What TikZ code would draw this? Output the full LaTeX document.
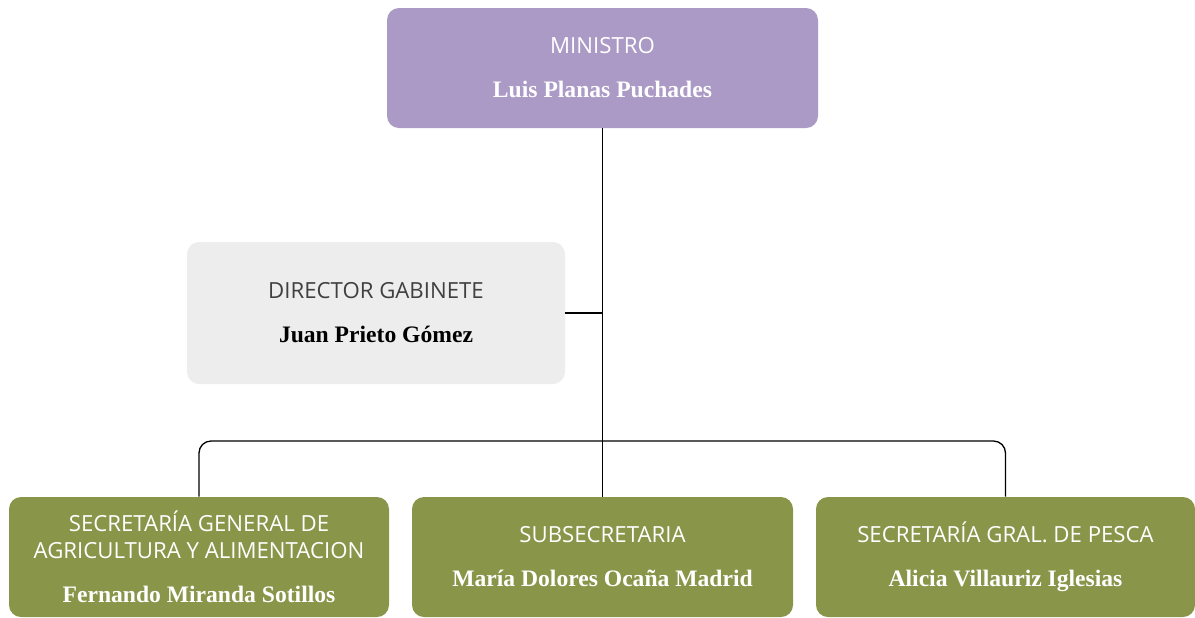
\documentclass[tikz,border=0pt]{standalone}
\usepackage{fontspec}
\setmainfont{Liberation Serif}
\newfontfamily\labfont{Open Sans}
\definecolor{lila}{HTML}{AB9AC5}
\definecolor{gris}{HTML}{EDEDED}
\definecolor{oliva}{HTML}{89964A}
\newcommand{\cargo}[1]{{\labfont\fontsize{11.1}{13.5}\selectfont #1}}
\newcommand{\titular}[1]{{\bfseries\fontsize{11.8}{13.5}\selectfont #1}}
\tikzset{
  caja/.style={rounded corners=6pt, align=center, inner sep=0pt,
    font=\fontsize{10.5}{13.5}\selectfont},
  enlace/.style={line width=0.65pt, black}
}
\begin{document}
\begin{tikzpicture}[x=0.5pt,y=-0.5pt]
	\useasboundingbox (0,0) rectangle (1195,617);
	\node[caja, fill=lila, text=white, minimum width=215.5pt, minimum height=60pt] (min) at (602.5,68)
		{\cargo{MINISTRO}\\[8.5pt]\titular{Luis Planas Puchades}};
	\node[caja, fill=gris, text=black, minimum width=189pt, minimum height=71pt] (dir) at (376,313)
		{\cargo{\color{black!75}DIRECTOR GABINETE}\\[8.5pt]\titular{Juan Prieto Gómez}};
	\node[caja, fill=oliva, text=white, minimum width=190pt, minimum height=60pt] (sga) at (199,557)
		{\cargo{SECRETARÍA GENERAL DE}\\\cargo{AGRICULTURA Y ALIMENTACION}\\[8.5pt]\titular{Fernando Miranda Sotillos}};
	\node[caja, fill=oliva, text=white, minimum width=190.5pt, minimum height=60pt] (sub) at (602.5,557)
		{\cargo{SUBSECRETARIA}\\[8.5pt]\titular{María Dolores Ocaña Madrid}};
	\node[caja, fill=oliva, text=white, minimum width=189.5pt, minimum height=60pt] (pes) at (1005.5,557)
		{\cargo{SECRETARÍA GRAL. DE PESCA}\\[8.5pt]\titular{Alicia Villauriz Iglesias}};
	\coordinate (bar) at (602.5,441);
	\draw[enlace] (min.south) -- (sub.north);
	\draw[enlace] (dir.east) -- (dir.east -| min.south);
	\draw[enlace, rounded corners=6pt] (sga.north) |- (bar) -| (pes.north);
\end{tikzpicture}
\end{document}
